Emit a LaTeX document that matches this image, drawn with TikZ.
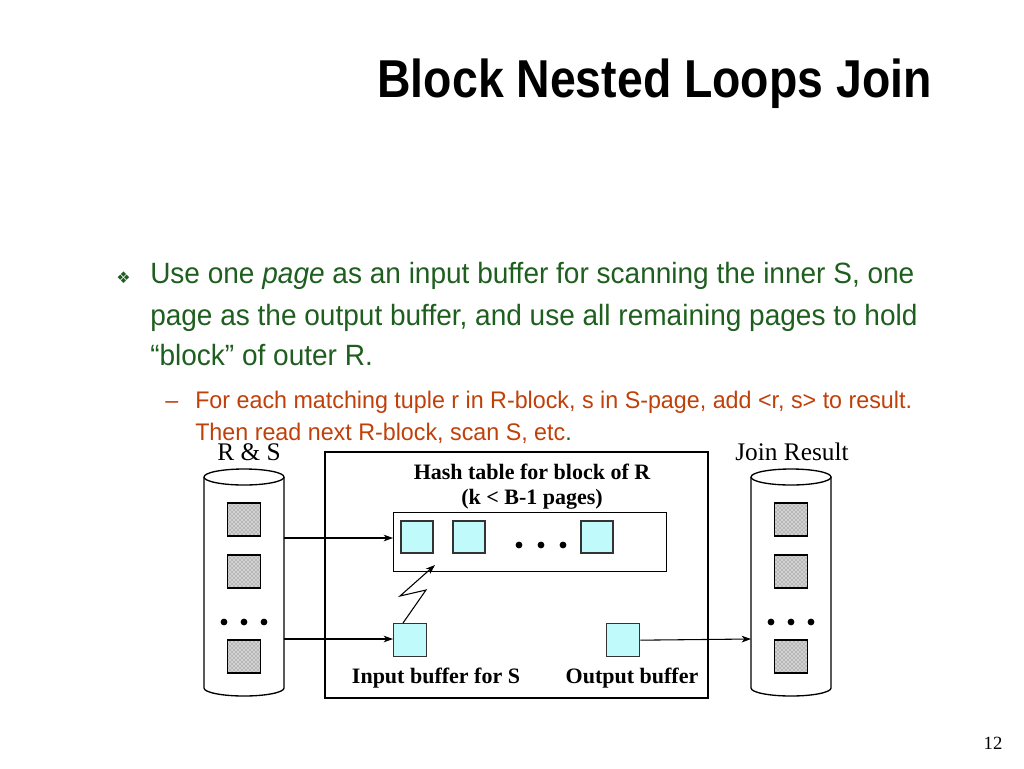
\documentclass[tikz,border=0pt]{standalone}
\usepackage{fontspec}
\setmainfont{Liberation Sans}
\newfontfamily\serf{Liberation Serif}
\newfontfamily\djfont{DejaVu Sans}
\usetikzlibrary{patterns,arrows.meta}
\definecolor{grn}{HTML}{1E5E1E}
\definecolor{org}{HTML}{C0400A}
\definecolor{cyanb}{HTML}{C0FAFA}
\begin{document}
\begin{tikzpicture}[x=0.75pt,y=-0.75pt,
 cyb/.style={draw=black!80,fill=cyanb,line width=1pt},
 arr/.style={-{Stealth[length=7pt,width=5pt,inset=2pt]},line width=0.8pt},
 lbl/.style={font=\serf\bfseries\fontsize{16.5}{18}\selectfont},
 body/.style={anchor=base west,text=grn,font=\fontsize{22}{26}\selectfont,xscale=0.955,inner sep=0},
 sub/.style={anchor=base west,text=org,font=\fontsize{18}{22}\selectfont,xscale=0.97,inner sep=0}]
\useasboundingbox (0,0) rectangle (1024,768);
\node[anchor=base east,inner sep=0,font=\bfseries\fontsize{40}{46}\selectfont,xscale=0.87] (title) at (932,97) {Block Nested Loops Join};
\node[anchor=base west,inner sep=0,text=grn,font=\djfont\fontsize{12}{13}\selectfont] (bul) at (116,283) {❖};
\node[body] (l1) at (150,283) {Use one \textit{page} as an input buffer for scanning the inner S, one};
\node[body] (l2) at (150,325) {page as the output buffer, and use all remaining pages to hold};
\node[body] (l3) at (150,365) {``block'' of outer R.};
\node[sub] (d) at (165,408) {–};
\node[sub] (s1) at (195,408) {For each matching tuple r in R-block, s in S-page, add <r, s> to result.};
\node[sub] (s2) at (195,440) {Then read next R-block, scan S, etc\textcolor{grn}{.}};
% cylinders
\foreach \n/\cx in {L/244,R/791}{
 \draw[line width=1pt,fill=white] (\cx-40,477) -- (\cx-40,688) arc[start angle=180,end angle=0,x radius=40,y radius=8] -- (\cx+40,477);
 \draw[line width=1pt,fill=white] (\cx,477) ellipse[x radius=40,y radius=8];
 \foreach \y in {503,555,640}{\fill[black!18] (\cx-16.5,\y) rectangle (\cx+16.5,\y+33);
   \fill[pattern=crosshatch dots,pattern color=black!60] (\cx-16.5,\y) rectangle (\cx+16.5,\y+33);
   \draw[line width=1pt] (\cx-16.5,\y) rectangle (\cx+16.5,\y+33);}
 \foreach \dx in {-20,0,20}{\fill (\cx+\dx,622) circle[radius=3.4];}
}
\coordinate (cylLa) at (284,538); \coordinate (cylLb) at (284,639); \coordinate (cylR) at (751,639);
\node[font=\serf\fontsize{19}{22}\selectfont] (rs) at (249,452) {R \& S};
\node[font=\serf\fontsize{19}{22}\selectfont] (jr) at (792,452) {Join Result};
\draw[line width=1pt] (325,452) rectangle (708,698);
\node[draw,line width=1pt,minimum width=273*0.75pt,minimum height=59*0.75pt,anchor=north west] (hash) at (393,512) {};
\node[lbl] (h1) at (532,472) {Hash table for block of R};
\node[lbl] (h2) at (532,499) {(k < B-1 pages)};
\foreach \x/\n in {401/a,453/b,581/c}{\draw[cyb] (\x,521) rectangle (\x+32,553);}
\foreach \x in {519,541,563}{\fill (\x,545) circle[radius=3.4];}
\node[cyb,minimum size=33*0.75pt,anchor=north west,inner sep=0] (inb) at (393,623) {};
\node[cyb,minimum size=33*0.75pt,anchor=north west,inner sep=0] (outb) at (606,623) {};
\node[lbl] (inl) at (436,678) {Input buffer for S};
\node[lbl] (outl) at (632,678) {Output buffer};
\draw[arr] (cylLa) -- (hash.west|-cylLa);
\draw[arr] (cylLb) -- (inb.west|-cylLb);
\draw[arr] (outb.east) -- (cylR);
\draw[arr] (inb.north west)++(10,0) -- (426,590) -- (400,596) -- (435,565);
\node[font=\serf\fontsize{14}{16}\selectfont] (pg) at (993,743) {12};
\end{tikzpicture}
\end{document}
